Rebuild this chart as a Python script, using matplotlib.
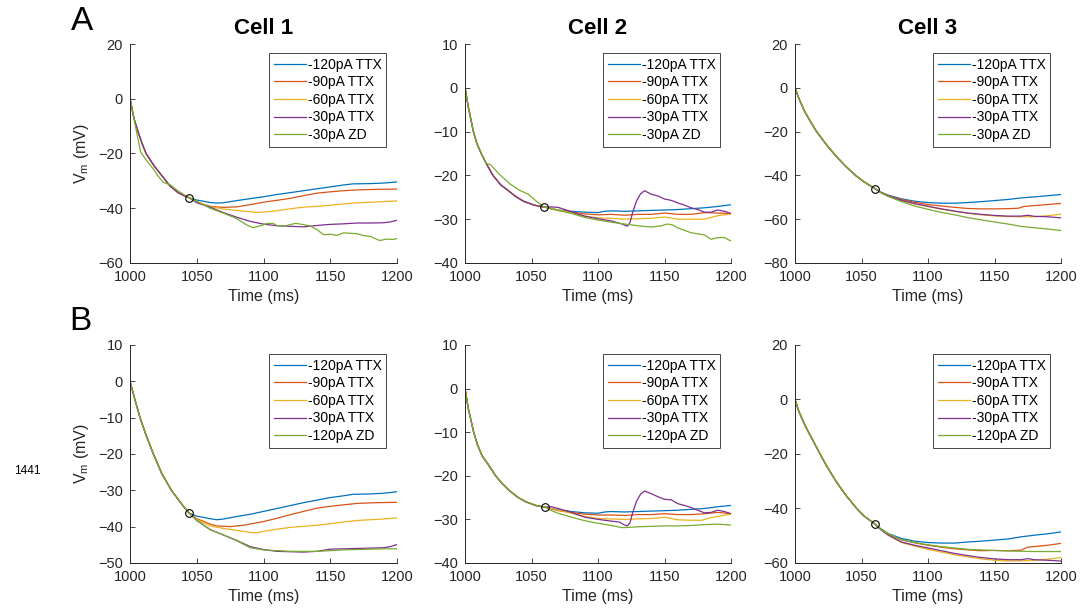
import matplotlib.pyplot as plt

plt.rcParams['font.family'] = ['Liberation Sans', 'DejaVu Sans']
plt.rcParams['mathtext.fontset'] = 'custom'
plt.rcParams['mathtext.rm'] = 'Liberation Sans'

colors = ['#0072BD', '#D95319', '#EDB120', '#7E2F8E', '#77AC30']
labels_A = ['-120pA TTX', '-90pA TTX', '-60pA TTX', '-30pA TTX', '-30pA ZD']
labels_B = ['-120pA TTX', '-90pA TTX', '-60pA TTX', '-30pA TTX', '-120pA ZD']
cells = ['Cell 1', 'Cell 2', 'Cell 3']

# ---- row A ----
# onset up to the marked point (shared by the TTX traces)
A1_onset = [(1000, 0), (1003, -7.3), (1006, -12), (1009, -16.3), (1012, -20), (1018, -24.5),
            (1024, -28.2), (1030, -31.9), (1036, -34.3), (1040, -35.3), (1044.5, -36.2)]
A1_traces = [
    [(1050, -37), (1060, -37.9), (1065, -38.1), (1070, -38), (1080, -37.2), (1090, -36.5),
     (1100, -35.8), (1110, -35), (1120, -34.3), (1130, -33.6), (1140, -32.9), (1150, -32.2),
     (1160, -31.5), (1167, -31.1), (1180, -31), (1190, -30.8), (1200, -30.4)],
    [(1050, -37.6), (1055, -38.6), (1060, -39.3), (1070, -39.7), (1080, -39.5), (1090, -38.7),
     (1100, -37.8), (1110, -37.1), (1120, -36.4), (1130, -35.4), (1140, -34.5), (1150, -34),
     (1160, -33.6), (1170, -33.3), (1185, -33.1), (1200, -33)],
    [(1050, -37.8), (1060, -39.4), (1070, -40.3), (1080, -40.8), (1090, -41.3), (1095, -41.5),
     (1100, -41.4), (1110, -40.9), (1120, -40.2), (1130, -39.6), (1140, -39.3), (1150, -38.9),
     (1160, -38.4), (1170, -38), (1185, -37.7), (1200, -37.3)],
    [(1050, -38), (1060, -39.6), (1070, -41.6), (1080, -43.3), (1090, -44.8), (1100, -45.8),
     (1110, -46.4), (1120, -46.6), (1130, -46.8), (1140, -46.3), (1150, -45.9), (1160, -45.7),
     (1170, -45.4), (1180, -45.4), (1190, -45.3), (1195, -45), (1200, -44.4)],
    [(1004, -10), (1008, -19.5), (1012.5, -22.7), (1017.5, -25.7), (1021, -28.2), (1025, -30.6),
     (1030, -31.4), (1036, -33.7), (1042, -35.5), (1044.5, -36.2), (1050, -37.5), (1060, -40),
     (1070, -41.8), (1080, -43.8), (1087, -46), (1092, -47.1), (1097, -46.5), (1102, -45.6),
     (1107, -45.5), (1110, -46.3), (1115, -46.6), (1120, -46), (1124, -45.5), (1130, -46),
     (1135, -46.5), (1140, -47.8), (1145, -49.7), (1150, -49.5), (1155, -49.9), (1160, -49),
     (1170, -49.3), (1175, -50), (1180, -50.3), (1187, -51.8), (1192, -51.3), (1197, -51.4),
     (1200, -51.1)],
]

A2_onset = [(1000, 0), (1002.5, -4.4), (1006.3, -10), (1009, -12.8), (1012.5, -15.2), (1016, -17.3),
            (1021, -20), (1027, -22.2), (1033, -23.6), (1038, -24.8), (1044, -25.9), (1052, -26.8),
            (1059.6, -27.25)]
A2_traces = [
    [(1065, -27.6), (1070, -27.9), (1080, -28.2), (1090, -28.4), (1100, -28.5), (1105, -28.2),
     (1110, -28.1), (1120, -28.2), (1130, -28.1), (1140, -28), (1150, -27.9), (1160, -27.8),
     (1170, -27.6), (1180, -27.4), (1190, -27.1), (1200, -26.7)],
    [(1065, -27.6), (1070, -28), (1080, -28.4), (1090, -28.8), (1100, -29), (1110, -28.9),
     (1120, -29.1), (1130, -28.9), (1140, -28.9), (1150, -28.6), (1160, -28.9), (1170, -28.9),
     (1180, -28.5), (1190, -28.6), (1200, -28.7)],
    [(1065, -27.5), (1070, -27.9), (1080, -28.5), (1090, -29.3), (1100, -29.7), (1110, -29.8),
     (1120, -30), (1130, -29.9), (1140, -29.8), (1150, -29.5), (1160, -30), (1170, -30),
     (1180, -30), (1185, -29.6), (1190, -29.2), (1200, -28.8)],
    [(1065, -27.2), (1070, -27.3), (1080, -28.3), (1090, -29.3), (1100, -29.9), (1110, -30.4),
     (1118, -31.1), (1122, -31.6), (1124, -30.8), (1126, -28.5), (1129, -25.8), (1132, -24.2),
     (1135, -23.5), (1140, -24.3), (1145, -24.7), (1150, -25.4), (1155, -25.7), (1160, -26.3),
     (1165, -26.8), (1170, -27.4), (1175, -27.8), (1180, -28.4), (1185, -28.4), (1190, -27.9),
     (1195, -28.2), (1200, -28.7)],
    [(1019, -17.5), (1026, -19.8), (1034, -22), (1041, -23.4), (1047.6, -24.3), (1054, -26),
     (1059.6, -27.25), (1070, -28), (1080, -28.7), (1090, -29.6), (1100, -30.2), (1110, -30.7),
     (1120, -31.1), (1130, -31.5), (1140, -31.8), (1148, -31.5), (1152, -31.1), (1156, -31.3),
     (1160, -32), (1170, -33.1), (1180, -33.6), (1185, -34.6), (1190, -34.2), (1195, -34.2),
     (1200, -35)],
]

A3_onset = [(1000, 0), (1003, -5), (1007, -10.5), (1011, -14.8), (1016, -19.8), (1024, -26.3),
            (1031, -31.3), (1038, -35.8), (1045.5, -40), (1052, -43), (1060, -46)]
A3_traces = [
    [(1065, -47.8), (1070, -49), (1080, -50.7), (1090, -51.8), (1100, -52.4), (1110, -52.7),
     (1120, -52.7), (1130, -52.4), (1140, -52), (1150, -51.5), (1160, -51), (1170, -50.3),
     (1180, -49.8), (1190, -49.3), (1200, -48.7)],
    [(1065, -47.9), (1070, -49.2), (1080, -51), (1090, -52.3), (1100, -53.3), (1110, -54),
     (1120, -54.6), (1130, -55.1), (1140, -55.3), (1150, -55.3), (1160, -55.2), (1168, -55),
     (1172, -54.2), (1180, -53.8), (1190, -53.3), (1200, -52.8)],
    [(1065, -48), (1070, -49.4), (1080, -51.5), (1090, -53), (1100, -54.2), (1110, -55.4),
     (1120, -56.4), (1130, -57.3), (1140, -58), (1150, -58.5), (1160, -58.8), (1170, -58.9),
     (1180, -58.9), (1190, -58.4), (1200, -57.7)],
    [(1065, -48), (1070, -49.4), (1080, -51.4), (1090, -52.9), (1100, -54.1), (1110, -55.3),
     (1120, -56.3), (1130, -57.2), (1140, -57.8), (1150, -58.3), (1160, -58.6), (1170, -58.6),
     (1175, -58.2), (1180, -58.7), (1190, -58.9), (1200, -59.4)],
    [(1065, -48.1), (1070, -49.6), (1080, -52), (1090, -54), (1100, -55.5), (1110, -56.9),
     (1120, -58), (1130, -59.3), (1140, -60.3), (1150, -61.3), (1160, -62.2), (1170, -63.3),
     (1180, -63.9), (1190, -64.5), (1200, -65.2)],
]

# ---- row B ----
B1_onset = [(1000, 0), (1003.7, -5.1), (1007.5, -10), (1012, -14.8), (1017.5, -20), (1023.7, -25.3),
            (1031, -30), (1038.7, -33.8), (1044.4, -36.3)]
B1_traces = [
    [(1050, -37.1), (1060, -37.8), (1065, -38.1), (1070, -37.9), (1080, -37.2), (1090, -36.6),
     (1100, -35.8), (1110, -35), (1120, -34.2), (1130, -33.4), (1140, -32.7), (1150, -32),
     (1160, -31.5), (1167, -31.1), (1180, -31), (1190, -30.8), (1200, -30.4)],
    [(1050, -37.8), (1060, -39.3), (1065, -39.8), (1075, -40), (1085, -39.6), (1100, -38.6),
     (1110, -37.7), (1120, -36.7), (1130, -35.8), (1140, -34.9), (1150, -34.4), (1160, -34),
     (1170, -33.6), (1185, -33.4), (1200, -33.3)],
    [(1050, -38), (1060, -39.8), (1070, -40.5), (1080, -41), (1090, -41.6), (1095, -41.7),
     (1100, -41.3), (1110, -40.7), (1120, -40.2), (1130, -39.9), (1140, -39.6), (1150, -39.2),
     (1160, -38.7), (1170, -38.3), (1185, -38), (1200, -37.6)],
    [(1050, -38.3), (1060, -40.8), (1070, -42.3), (1080, -43.8), (1090, -45.5), (1100, -46.3),
     (1110, -46.8), (1120, -46.9), (1130, -47), (1140, -46.8), (1150, -46.2), (1160, -46.1),
     (1170, -46), (1180, -45.9), (1190, -45.8), (1195, -45.5), (1200, -44.9)],
    [(1050, -38.3), (1060, -40.8), (1070, -42.3), (1080, -43.9), (1090, -45.8), (1100, -46.4),
     (1110, -46.6), (1120, -46.8), (1130, -46.8), (1140, -46.8), (1150, -46.6), (1160, -46.4),
     (1170, -46.3), (1180, -46.2), (1190, -46.1), (1200, -46.1)],
]

B2_onset = [(1000, 0), (1002.5, -4.6), (1006.5, -10), (1009.5, -13), (1013, -15.5), (1017, -17.2),
            (1023, -20), (1028, -21.8), (1033, -23.3), (1040, -25), (1046, -26), (1053, -26.8),
            (1060, -27.2)]
B2_traces = [
    [(1065, -27.5), (1070, -27.8), (1080, -28.2), (1090, -28.5), (1100, -28.6), (1105, -28.3),
     (1110, -28.2), (1120, -28.3), (1130, -28.2), (1140, -28.1), (1150, -28), (1160, -27.9),
     (1170, -27.7), (1180, -27.5), (1190, -27.1), (1200, -26.8)],
    [(1065, -27.6), (1070, -28), (1080, -28.4), (1090, -28.8), (1100, -29), (1110, -29),
     (1120, -29.1), (1130, -28.9), (1140, -28.9), (1150, -28.7), (1160, -28.9), (1170, -28.9),
     (1180, -28.7), (1190, -28.4), (1200, -28.7)],
    [(1065, -27.5), (1070, -27.9), (1080, -28.6), (1090, -29.3), (1100, -29.8), (1110, -29.9),
     (1120, -30), (1130, -29.9), (1140, -29.8), (1150, -29.5), (1160, -30.1), (1170, -30.2),
     (1178, -30.2), (1185, -29.6), (1192, -29.2), (1200, -28.8)],
    [(1065, -27.1), (1070, -27.5), (1080, -28.4), (1090, -29.5), (1100, -30), (1110, -30.4),
     (1116, -30.6), (1120, -31.3), (1122, -31.5), (1124, -30.8), (1126, -28.5), (1129, -25.8),
     (1132, -24.2), (1135, -23.5), (1140, -24.1), (1145, -24.8), (1150, -25.4), (1155, -25.5),
     (1160, -26.4), (1165, -26.8), (1170, -27.3), (1175, -27.9), (1180, -28.5), (1185, -28.4),
     (1190, -27.9), (1195, -28.2), (1200, -28.7)],
    [(1065, -28), (1070, -28.6), (1080, -29.5), (1090, -30.3), (1100, -30.9), (1110, -31.4),
     (1118, -31.9), (1125, -31.8), (1130, -31.7), (1140, -31.6), (1150, -31.5), (1160, -31.5),
     (1170, -31.4), (1180, -31.2), (1190, -31.1), (1200, -31.3)],
]

B3_onset = [(1000, 0), (1003, -4.5), (1008, -10), (1013, -14.6), (1018.8, -20), (1024, -24.6),
            (1030.8, -30), (1038, -35), (1046.4, -40), (1052, -42.8), (1060, -45.7)]
B3_traces = [
    [(1065, -47.6), (1070, -49.2), (1080, -51), (1090, -52), (1100, -52.5), (1110, -52.7),
     (1120, -52.7), (1130, -52.3), (1140, -52), (1150, -51.6), (1160, -51.2), (1170, -50.4),
     (1180, -49.8), (1190, -49.3), (1200, -48.6)],
    [(1065, -47.8), (1070, -49.4), (1080, -51.5), (1090, -52.6), (1100, -53.5), (1110, -54.2),
     (1120, -54.8), (1130, -55.2), (1140, -55.5), (1150, -55.4), (1160, -55.5), (1170, -55.3),
     (1175, -54.2), (1190, -53.5), (1200, -52.8)],
    [(1065, -48), (1070, -49.8), (1080, -52.5), (1090, -53.8), (1100, -55), (1110, -56),
     (1120, -57), (1130, -57.8), (1140, -58.5), (1150, -59), (1160, -59.3), (1170, -59.2),
     (1180, -59), (1190, -58.6), (1200, -58)],
    [(1065, -48), (1070, -49.7), (1080, -52.3), (1090, -53.5), (1100, -54.5), (1110, -55.5),
     (1120, -56.5), (1130, -57.3), (1140, -58), (1150, -58.5), (1160, -58.8), (1170, -58.8),
     (1175, -58.4), (1180, -58.8), (1190, -59), (1200, -59.3)],
    [(1065, -47.9), (1070, -49.3), (1080, -51.5), (1090, -52.5), (1100, -53.3), (1110, -54),
     (1120, -54.5), (1130, -55), (1140, -55.2), (1150, -55.4), (1160, -55.6), (1170, -55.7),
     (1180, -55.8), (1190, -55.8), (1200, -55.8)],
]

A_ylims = [(-60, 20, 20), (-40, 10, 10), (-80, 20, 20)]
B_ylims = [(-50, 10, 10), (-40, 10, 10), (-60, 20, 20)]

rows = [
    ([A1_onset, A2_onset, A3_onset], [A1_traces, A2_traces, A3_traces], labels_A, A_ylims),
    ([B1_onset, B2_onset, B3_onset], [B1_traces, B2_traces, B3_traces], labels_B, B_ylims),
]

fig = plt.figure(figsize=(10.88, 6.12), dpi=100)

lefts = [0.1195, 0.4274, 0.7307]
widths = [0.2454, 0.2445, 0.2445]
bottoms = [0.5703, 0.0801]
heights = [0.3578, 0.3562]
ink = '#262626'

for r, (onsets, traces, labels, ylims) in enumerate(rows):
    for c in range(3):
        ax = fig.add_axes([lefts[c], bottoms[r], widths[c], heights[r]])
        onset = onsets[c]
        for k, tail in enumerate(traces[c]):
            pts = [p for p in onset if p[0] < tail[0][0]] + tail
            t, v = zip(*pts)
            ax.plot(t, v, color=colors[k], lw=0.9, label=labels[k])
        # marker at the end of the shared onset
        ax.plot(onset[-1][0], onset[-1][1], 'o', mfc='none', mec='k', ms=5.5, mew=0.8)

        lo, hi, step = ylims[c]
        ax.set_xlim(1000, 1200)
        ax.set_ylim(lo, hi)
        ax.set_xticks(range(1000, 1201, 50))
        ax.set_yticks(range(lo, hi + 1, step))
        for s in ['top', 'right']:
            ax.spines[s].set_visible(False)
        for s in ['left', 'bottom']:
            ax.spines[s].set_color(ink)
            ax.spines[s].set_linewidth(0.7)
        ax.tick_params(direction='in', length=3.5, width=0.6, color=ink,
                       labelcolor=ink, labelsize=10.5, pad=5)
        ax.set_xlabel('Time (ms)', fontsize=11.5, color=ink, labelpad=4)
        if c == 0:
            ax.set_ylabel(r'V$_{\mathregular{m}}$ (mV)', fontsize=11.5, color=ink, labelpad=5)
        if r == 0:
            ax.set_title(cells[c], fontsize=16, fontweight='bold', pad=7)
        leg = ax.legend(loc='upper right', bbox_to_anchor=(0.96, 0.96), borderaxespad=0,
                        fontsize=10, handlelength=2.3, handletextpad=0.15, labelspacing=0.26,
                        borderpad=0.35, fancybox=False, framealpha=1)
        leg.get_frame().set_edgecolor(ink)
        leg.get_frame().set_linewidth(0.6)

fig.text(82 / 1088, 1 - 22 / 612, 'A', fontsize=24, ha='center', va='center')
fig.text(80 / 1088, 1 - 322 / 612, 'B', fontsize=24, ha='center', va='center')
fig.text(27 / 1088, 1 - 471 / 612, '1441', fontsize=8.5, ha='center', va='center')

fig.savefig('out.png', dpi=100)
